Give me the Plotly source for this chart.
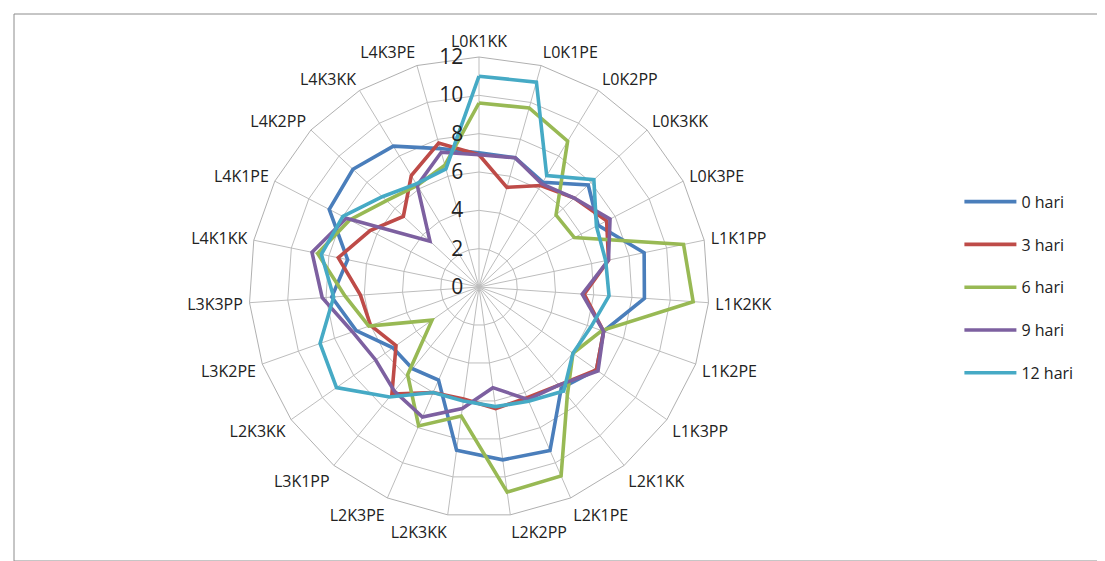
import plotly.graph_objects as go

categories = ["L0K1KK", "L0K1PE", "L0K2PP", "L0K3KK", "L0K3PE", "L1K1PP", "L1K2KK",
              "L1K2PE", "L1K3PP", "L2K1KK", "L2K1PE", "L2K2PP", "L2K3KK", "L2K3PE",
              "L3K1PP", "L2K3KK", "L3K2PE", "L3K3PP", "L4K1KK", "L4K1PE", "L4K2PP",
              "L4K3KK", "L4K3PE"]

hari_0 = [7.0, 7.0, 6.4, 7.8, 7.0, 8.8, 8.65, 6.9, 7.5, 6.8, 9.3, 9.1, 8.6, 5.3,
          5.5, 5.5, 6.8, 7.7, 7.0, 8.8, 9.0, 8.6, 7.5]
hari_3 = [6.9, 5.4, 6.2, 6.8, 7.5, 6.9, 5.5, 6.9, 7.5, 6.6, 6.3, 6.4, 5.9, 6.0,
          7.2, 5.3, 6.0, 6.2, 7.5, 6.4, 5.4, 6.8, 7.8]
hari_6 = [9.6, 9.7, 8.9, 5.5, 5.6, 10.9, 11.2, 6.8, 6.0, 7.3, 10.75, 10.8, 6.8, 7.9,
          5.9, 3.0, 6.1, 7.0, 8.6, 7.6, 6.6, 6.2, 6.6]
hari_9 = [6.9, 7.0, 6.3, 6.8, 7.7, 6.9, 5.4, 6.9, 7.6, 6.6, 6.4, 5.3, 6.4, 7.4,
          7.0, 6.6, 7.0, 8.2, 8.9, 7.8, 3.5, 6.2, 7.3]
hari_12 = [11.0, 11.1, 6.8, 8.2, 6.9, 6.75, 6.8, 6.2, 6.0, 7.0, 6.5, 6.3, 6.0, 6.0,
           7.4, 9.1, 8.8, 7.6, 8.4, 8.0, 6.9, 6.3, 6.4]

series_names = ["0 hari", "3 hari", "6 hari", "9 hari", "12 hari"]
series_values = [hari_0, hari_3, hari_6, hari_9, hari_12]
colors = ["#4A7EBB", "#BE4B48", "#98B954", "#7D60A0", "#46AAC5"]

radial_ticks = [0, 2, 4, 6, 8, 10, 12]

# unique ids (one label is repeated in the chart)
ids = ["c%d" % i for i in range(len(categories))]

fig = go.Figure()
for name, vals, col in zip(series_names, series_values, colors):
    fig.add_trace(go.Scatterpolar(
        r=vals + [vals[0]],
        theta=ids + [ids[0]],
        mode="lines",
        name=name,
        legendgroup=name,
        line=dict(color=col, width=3.6),
    ))

W, H = 1105, 561
cx, cy, R = 471, 279, 230
fig.update_layout(
    width=W, height=H,
    margin=dict(l=0, r=0, t=0, b=0),
    paper_bgcolor="white",
    plot_bgcolor="white",
    font=dict(family="Open Sans, Lato, sans-serif", color="#222"),
    polar=dict(
        domain=dict(x=[(cx - R) / W, (cx + R) / W],
                    y=[(H - cy - R) / H, (H - cy + R) / H]),
        bgcolor="white",
        gridshape="linear",
        angularaxis=dict(
            type="category",
            categoryorder="array",
            categoryarray=ids,
            tickmode="array",
            tickvals=ids,
            ticktext=categories,
            direction="clockwise",
            rotation=90,
            showline=True,
            linecolor="#b0b0b0",
            linewidth=1,
            gridcolor="#bdbdbd",
            gridwidth=1,
            ticks="outside",
            ticklen=3,
            tickcolor="rgba(0,0,0,0)",
            tickfont=dict(size=16, color="#222"),
        ),
        radialaxis=dict(
            range=[0, 12],
            tickmode="array",
            tickvals=radial_ticks,
            angle=90,
            tickangle=90,
            side="counterclockwise",
            showline=False,
            ticks="outside",
            ticklen=8,
            tickcolor="rgba(0,0,0,0)",
            gridcolor="#bdbdbd",
            gridwidth=1,
            tickfont=dict(size=21, color="#222"),
        ),
    ),
    legend=dict(
        x=0.861, y=0.685, xanchor="left", yanchor="top",
        font=dict(size=16, color="#222"),
        itemwidth=52,
        tracegroupgap=19,
        bgcolor="rgba(0,0,0,0)",
    ),
    shapes=[dict(type="rect", xref="paper", yref="paper",
                 x0=6 / W, x1=1099 / W, y0=8 / H, y1=1 - 6 / H,
                 line=dict(color="#8c8c8c", width=1))],
)

fig.write_html("out.html")
